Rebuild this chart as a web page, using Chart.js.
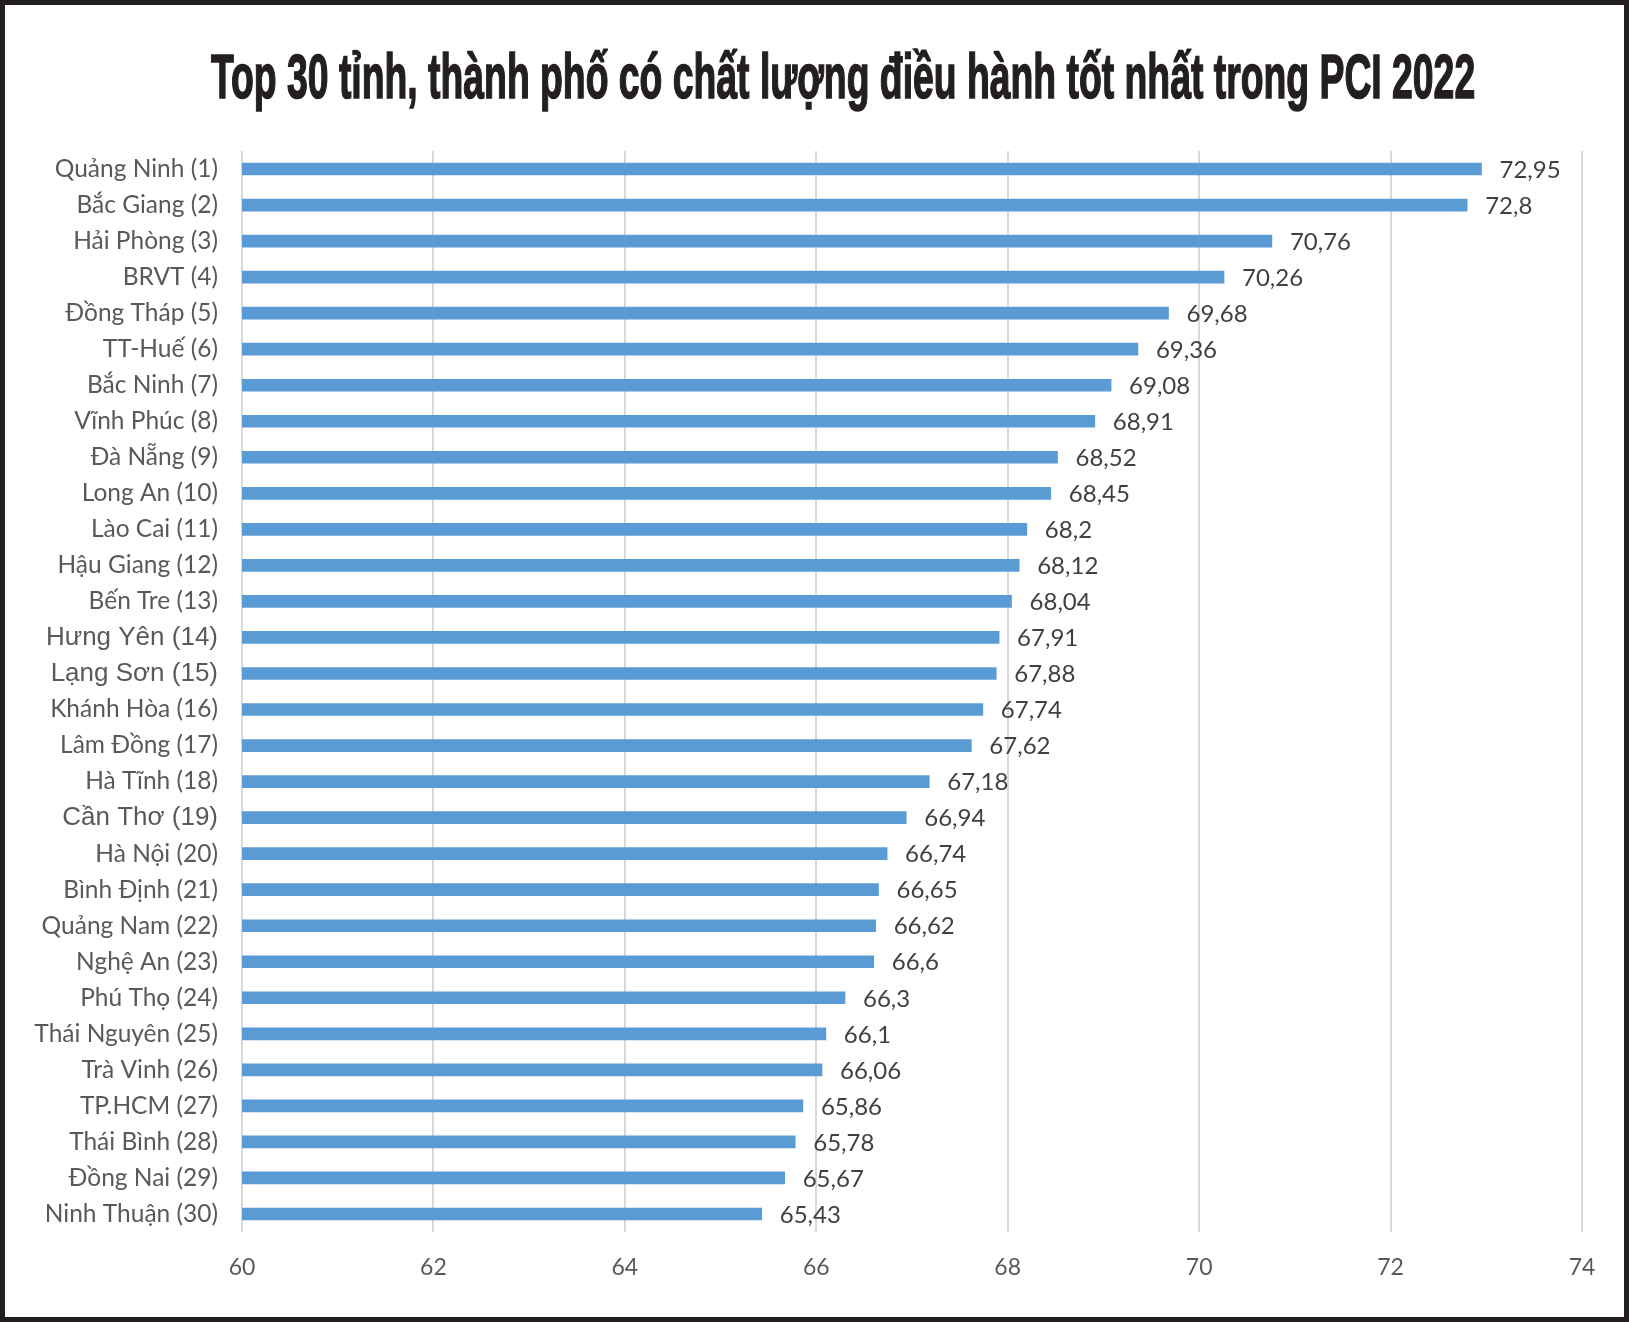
<!DOCTYPE html>
<html>
<head>
<meta charset="utf-8">
<script src="https://cdn.jsdelivr.net/npm/chart.js@4"></script>
<style>
    body { margin: 0; background: #fff; }
    #frame {
        position: absolute; left: 0; top: 0; width: 1629px; height: 1322px;
        box-sizing: border-box; border: 5px solid #231f20; background: #fff;
    }
    #title {
        position: absolute; left: 211px; top: 45px; margin: 0;
        font-family: "Liberation Sans Narrow", "Liberation Sans", sans-serif;
        font-weight: bold; font-size: 63px; line-height: 63px;
        color: #231f20; white-space: nowrap; transform-origin: 0 0;
        -webkit-text-stroke: 1.6px #231f20;
    }
    #chart { position: absolute; left: 0; top: 0; }
</style>
</head>
<body>
<div id="frame"></div>
<div id="title">Top 30 tỉnh, thành phố có chất lượng điều hành tốt nhất trong PCI 2022</div>
<canvas id="chart" width="1629" height="1322"></canvas>
<script>
// Provinces, ranked
const provinces = [
    'Quảng Ninh (1)', 'Bắc Giang (2)', 'Hải Phòng (3)', 'BRVT (4)', 'Đồng Tháp (5)',
    'TT-Huế (6)', 'Bắc Ninh (7)', 'Vĩnh Phúc (8)', 'Đà Nẵng (9)', 'Long An (10)',
    'Lào Cai (11)', 'Hậu Giang (12)', 'Bến Tre (13)', 'Hưng Yên (14)', 'Lạng Sơn (15)',
    'Khánh Hòa (16)', 'Lâm Đồng (17)', 'Hà Tĩnh (18)', 'Cần Thơ (19)', 'Hà Nội (20)',
    'Bình Định (21)', 'Quảng Nam (22)', 'Nghệ An (23)', 'Phú Thọ (24)', 'Thái Nguyên (25)',
    'Trà Vinh (26)', 'TP.HCM (27)', 'Thái Bình (28)', 'Đồng Nai (29)', 'Ninh Thuận (30)'
];

// PCI 2022 scores
const scores = [
    72.95, 72.8, 70.76, 70.26, 69.68,
    69.36, 69.08, 68.91, 68.52, 68.45,
    68.2, 68.12, 68.04, 67.91, 67.88,
    67.74, 67.62, 67.18, 66.94, 66.74,
    66.65, 66.62, 66.6, 66.3, 66.1,
    66.06, 65.86, 65.78, 65.67, 65.43
];

// x axis range
const xMin = 60;
const xMax = 74;
const xStep = 2;

// these three labels use a bigger font in the original
const bigLabels = ['Hưng Yên (14)', 'Lạng Sơn (15)', 'Cần Thơ (19)'];

// squeeze the title to the width of the original
const title = document.getElementById('title');
title.style.transform = 'scaleX(' + (1264 / title.offsetWidth) + ')';

// value labels at the end of each bar, with comma decimals
const valueLabels = {
    id: 'valueLabels',
    afterDatasetsDraw(chart) {
        const ctx = chart.ctx;
        const meta = chart.getDatasetMeta(0);
        ctx.save();
        ctx.font = '24px Lato';
        ctx.fillStyle = '#404040';
        ctx.textAlign = 'left';
        ctx.textBaseline = 'middle';
        meta.data.forEach((bar, i) => {
            ctx.fillText(String(scores[i]).replace('.', ','), bar.x + 18, bar.y + 1);
        });
        ctx.restore();
    }
};

Chart.defaults.font.family = 'Lato';

new Chart(document.getElementById('chart').getContext('2d'), {
    type: 'bar',
    data: {
        labels: provinces,
        datasets: [{
            data: scores,
            backgroundColor: '#5b9bd5',
            barThickness: 12
        }]
    },
    options: {
        indexAxis: 'y',
        responsive: false,
        animation: false,
        layout: { padding: { top: 151, right: 47, bottom: 30, left: 0 } },
        plugins: {
            legend: { display: false },
            tooltip: { enabled: false }
        },
        scales: {
            x: {
                min: xMin,
                max: xMax,
                ticks: {
                    stepSize: xStep,
                    color: '#595959',
                    font: { size: 23 },
                    padding: 22
                },
                grid: { color: '#d9d9d9', lineWidth: 2, drawTicks: false },
                border: { display: false },
                afterFit: scale => { scale.height = 60; }
            },
            y: {
                ticks: {
                    color: '#595959',
                    padding: 16,
                    font: c => bigLabels.includes(provinces[c.index])
                        ? { family: 'Liberation Sans', size: 26 }
                        : { family: 'Lato', size: 24.5 }
                },
                grid: { display: false },
                border: { display: false },
                afterFit: scale => { scale.width = 242; }
            }
        }
    },
    plugins: [valueLabels]
});
</script>
</body>
</html>
